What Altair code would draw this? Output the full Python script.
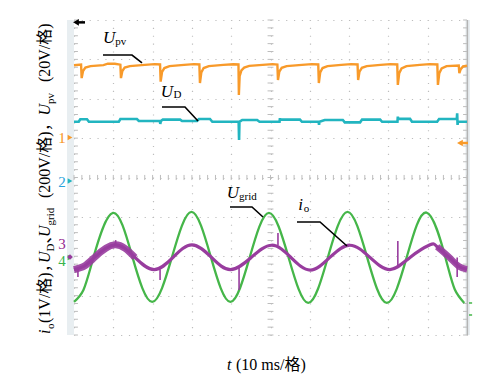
import altair as alt
import pandas as pd

# ---------------- values read off the oscilloscope capture ----------------
# horizontal: 10 ms/div, 10 div (0..100 ms); vertical: 8 div (-4..4)

# channel 1: U_pv, 20 V/div, ground marker at +1.0 div
upv_offset, upv_scale = 1.0, 20.0
upv_t = [0.0, 1.8, 1.95, 2.3, 2.9, 4.2, 7.5, 8.6, 10.4, 11.8, 11.95, 12.3, 12.9, 14.2,
         18.0, 20.5, 21.9, 22.05, 22.4, 23.0, 24.3, 28.0, 30.5, 31.9, 32.05, 32.4, 33.0, 34.3,
         38.0, 40.5, 41.85, 41.95, 42.15, 42.6, 43.3, 44.6, 48.0, 50.5, 51.75, 51.9, 52.25, 52.85,
         54.1, 58.0, 60.5, 62.15, 62.3, 62.65, 63.25, 64.5, 68.0, 70.5, 72.15, 72.3, 72.65, 73.25,
         74.5, 78.0, 80.5, 82.25, 82.4, 82.75, 83.35, 84.6, 88.0, 90.5, 92.45, 92.6, 92.95, 93.55,
         94.8, 97.9, 98.05, 98.4, 99.0, 100.0]
upv_v = [37.0, 37.4, 30.5, 34.1, 35.8, 36.6, 37.1, 37.8, 37.8, 37.3, 30.5, 34.1, 35.8, 36.6,
         37.2, 37.6, 37.4, 28.7, 33.6, 35.6, 36.6, 37.2, 37.6, 37.4, 28.0, 33.4, 35.6, 36.6,
         37.2, 37.5, 37.4, 21.9, 31.5, 34.4, 35.8, 36.7, 37.2, 37.6, 37.4, 29.5, 33.8, 35.7,
         36.6, 37.2, 37.6, 37.4, 28.0, 33.4, 35.6, 36.6, 37.2, 37.6, 37.4, 29.5, 33.8, 35.7,
         36.6, 37.2, 37.6, 37.4, 27.0, 33.0, 35.4, 36.6, 37.2, 37.6, 37.4, 27.0, 33.0, 35.4,
         36.6, 36.9, 33.0, 35.0, 36.4, 36.8]

# channel 2: U_D, 200 V/div
ud_offset, ud_scale = -0.06, 200.0
ud_t = [0.0, 1.2, 1.6, 3.3, 3.8, 9.2, 11.4, 11.8, 16.0, 16.5, 21.1, 21.85, 21.95, 22.1, 22.6,
        27.0, 27.5, 31.3, 31.8, 34.6, 35.2, 41.9, 42.0, 42.1, 42.8, 46.6, 47.2, 52.3, 52.4,
        52.5, 57.5, 58.0, 62.25, 62.35, 62.45, 63.8, 68.4, 68.9, 72.8, 73.3, 77.9, 78.4, 82.3,
        82.4, 82.5, 85.5, 86.0, 92.4, 92.9, 97.4, 97.5, 97.6, 97.7, 100.0]
ud_v = [295, 295, 308, 308, 295, 295, 295, 309, 309, 299, 299, 299, 284, 299, 306,
        306, 299, 299, 309, 309, 295, 295, 202, 295, 304, 304, 295, 295, 313,
        306, 306, 295, 295, 279, 295, 304, 304, 292, 292, 306, 306, 295, 295,
        321, 310, 310, 295, 295, 309, 309, 338, 279, 295, 295]

# channel 4: U_grid, 200 V/div
ug_offset, ug_scale = -2.03, 200.0
ug_t = [0.0, 2.4, 4.95, 9.9, 14.9, 19.9, 24.9, 29.9, 34.85, 39.8, 44.7, 49.6, 54.6, 59.6,
        64.6, 69.6, 74.6, 79.6, 84.65, 89.7, 94.5, 96.9, 99.3]
ug_v = [-226, -165, 0, 226, 0, -226, 0, 231, 0, -226, 0, 226, 0, -231,
        0, 231, 0, -231, 0, 228, 0, -163, -231]

# channel 3: i_o, 1 V/div
io_offset, io_scale = -2.03, 1.0
io_t = [0.0, 2.6, 5.2, 10.4, 15.5, 20.4, 25.2, 30.0, 35.0, 39.8, 45.1, 50.3, 55.2, 60.1,
        65.1, 70.2, 75.3, 80.4, 85.5, 90.6, 92.4, 95.5, 98.0, 100.0]
io_v = [-0.31, -0.22, 0.0, 0.32, 0.0, -0.31, 0.0, 0.32, 0.0, -0.31, 0.0, 0.31, 0.0, -0.32,
        0.0, 0.31, 0.0, -0.31, 0.0, 0.32, 0.27, 0.0, -0.23, -0.30]
io_spike_t = [1.0, 10.6, 21.9, 42.0, 51.9, 82.4, 97.5]
io_spike_from = [-0.30, 0.30, -0.30, -0.24, 0.30, -0.24, 0.0]
io_spike_to = [-0.50, 0.44, -0.57, -0.83, 0.62, 0.42, -0.50]

# ---------------- colours / fonts ----------------
C_ORANGE = "#F89A2A"
C_CYAN = "#22B5C0"
C_GREEN = "#45B649"
C_PURPLE = "#983C9E"
C_GRID = "#bdbdbd"
SERIF = "Liberation Serif, Noto Sans CJK SC"


def to_div(vals, off, scale):
    return [off + v / scale for v in vals]


upv = pd.DataFrame({"t": upv_t, "y": to_div(upv_v, upv_offset, upv_scale)})
ud = pd.DataFrame({"t": ud_t, "y": to_div(ud_v, ud_offset, ud_scale)})
ug = pd.DataFrame({"t": ug_t, "y": to_div(ug_v, ug_offset, ug_scale)})
io = pd.DataFrame({"t": io_t, "y": to_div(io_v, io_offset, io_scale)})
io_sp = pd.DataFrame({"t": io_spike_t,
                      "y": to_div(io_spike_from, io_offset, io_scale),
                      "y2": to_div(io_spike_to, io_offset, io_scale)})

xs = alt.Scale(domain=[0, 100], nice=False, zero=False)
ys = alt.Scale(domain=[-4, 4], nice=False, zero=False)
xaxis = alt.Axis(values=list(range(0, 101, 10)), grid=True, gridColor=C_GRID,
                 gridDash=[1.2, 6.675], gridDashOffset=0.6, gridWidth=1.2,
                 labels=False, ticks=False, domain=False, title=None)
yaxis = alt.Axis(values=list(range(-4, 5)), grid=True, gridColor=C_GRID,
                 gridDash=[1.2, 6.66], gridDashOffset=0.6, gridWidth=1.2,
                 labels=False, ticks=False, domain=False, title=None)
X = alt.X("t:Q", scale=xs, axis=xaxis)
Y = alt.Y("y:Q", scale=ys, axis=yaxis)


def line(df, color, width, interp="linear", opacity=1.0):
    return alt.Chart(df).mark_line(color=color, strokeWidth=width, opacity=opacity,
                                   interpolate=interp).encode(x=X, y=Y)


# ---- oscilloscope graticule decorations ----
minor_t = [i * 2 for i in range(51)]
minor_y = [-4 + i * 0.2 for i in range(41)]
hticks = pd.DataFrame({"t": minor_t, "y": [-0.065] * 51, "y2": [0.065] * 51})
vticks = pd.DataFrame({"t": [49.25] * 41, "t2": [50.75] * 41, "y": minor_y})
lticks = pd.DataFrame({"t": [0.0] * 41, "t2": [1.0] * 41, "y": minor_y})
rticks = pd.DataFrame({"t": [99.0] * 41, "t2": [100.0] * 41, "y": minor_y})

grat = [
    alt.Chart(hticks).mark_rule(color=C_GRID, strokeWidth=1).encode(x=X, y=Y, y2="y2:Q"),
    alt.Chart(vticks).mark_rule(color=C_GRID, strokeWidth=1).encode(x=X, x2="t2:Q", y=Y),
    alt.Chart(lticks).mark_rule(color=C_GRID, strokeWidth=1).encode(x=X, x2="t2:Q", y=Y),
    alt.Chart(rticks).mark_rule(color=C_GRID, strokeWidth=1).encode(x=X, x2="t2:Q", y=Y),
]

bars = pd.DataFrame({"t": [-1.78, 99.6], "t2": [0.0, 100.75], "y": [-4, -4], "y2": [4, 4]})
bar_layer = alt.Chart(bars).mark_rect(color="#e8eef1").encode(x=X, x2="t2:Q", y=Y, y2="y2:Q")
edge = pd.DataFrame({"t": [100.1], "y": [-4], "y2": [4]})
edge_layer = alt.Chart(edge).mark_rule(color="#b4b4b4", strokeWidth=1.5).encode(x=X, y=Y, y2="y2:Q")

# ---- traces ----
traces = [
    line(upv, C_ORANGE, 2.4),
    line(ud, C_CYAN, 2.6),
    line(ug, C_GREEN, 2.3, "natural"),
    line(io, C_PURPLE, 3.2, "natural"),
    line(io[io.t <= 15.5], C_PURPLE, 7, "natural", 0.9),
    line(io[io.t >= 92.4], C_PURPLE, 6.5, "natural", 0.9),
    alt.Chart(io_sp).mark_rule(color=C_PURPLE, strokeWidth=1.6).encode(x=X, y=Y, y2="y2:Q"),
]

# ---- channel markers ----
num = pd.DataFrame({"t": [-3.05] * 4, "y": [0.876, -0.241, -1.815, -2.245],
                    "text": ["1", "2", "3", "4"],
                    "c": ["#F7941D", "#29A3DC", "#93278F", "#39B54A"]})
num_layer = alt.Chart(num).mark_text(font=SERIF, fontSize=15, align="center",
                                     baseline="alphabetic").encode(
    x=X, y=Y, text="text:N", color=alt.Color("c:N", scale=None))
tri = pd.DataFrame({"t": [-1.02, -1.02, -1.02], "y": [1.016, -0.089, -2.03],
                    "c": [C_ORANGE, C_CYAN, C_GREEN]})
tri_layer = alt.Chart(tri).mark_point(shape="triangle-right", filled=True, size=30,
                                      opacity=1).encode(x=X, y=Y, color=alt.Color("c:N", scale=None))
dia = pd.DataFrame({"t": [-1.02], "y": [-2.02]})
dia_layer = alt.Chart(dia).mark_point(shape="diamond", filled=True, size=32, opacity=1,
                                      color=C_PURPLE).encode(x=X, y=Y)
trig = pd.DataFrame({"t": [0.5, 98.2], "y": [3.94, 0.876], "c": ["black", C_ORANGE]})
trig_layer = alt.Chart(trig).mark_point(shape="triangle-left", filled=True, size=45,
                                        opacity=1).encode(x=X, y=Y, color=alt.Color("c:N", scale=None))
trig_tail = pd.DataFrame({"t": [0.5, 98.2], "t2": [2.8, 100.25], "y": [3.94, 0.876],
                          "c": ["black", C_ORANGE]})
tail_layer = alt.Chart(trig_tail).mark_rule(strokeWidth=2.5).encode(
    x=X, x2="t2:Q", y=Y, color=alt.Color("c:N", scale=None))
gdash = pd.DataFrame({"t": [100.5, 100.5], "t2": [101.3, 101.3], "y": [-3.187, -3.492]})
gdash_layer = alt.Chart(gdash).mark_rule(color=C_GREEN, strokeWidth=1.5).encode(x=X, x2="t2:Q", y=Y)

# ---- trace labels with leader lines ----
lab_main = pd.DataFrame({"t": [7.38, 22.06, 38.85, 57.07], "y": [3.408, 2.052, -0.529, -0.825],
                         "text": ["U", "U", "U", "i"]})
lab_sub = pd.DataFrame({"t": [10.5, 25.3, 42.0, 58.45], "y": [3.365, 2.011, -0.559, -0.868],
                        "text": ["pv", "D", "grid", "o"]})
lab_layers = [
    alt.Chart(lab_main).mark_text(font=SERIF, fontSize=17, fontStyle="italic", align="left",
                                  baseline="alphabetic", color="black").encode(x=X, y=Y, text="text:N"),
    alt.Chart(lab_sub).mark_text(font=SERIF, fontSize=11, align="left",
                                 baseline="alphabetic", color="black").encode(x=X, y=Y, text="text:N"),
]
lead = pd.DataFrame({
    "name": ["pv"] * 3 + ["D"] * 3 + ["grid"] * 3 + ["o"] * 3,
    "t": [7.38, 14.76, 17.30, 22.39, 28.24, 31.55, 39.69, 45.29, 48.09, 56.74, 62.60, 69.47],
    "y": [3.111, 3.111, 2.908, 1.790, 1.790, 1.435, -0.749, -0.749, -1.003, -1.130, -1.130, -1.740],
})
lead_layer = alt.Chart(lead).mark_line(color="black", strokeWidth=1.6).encode(x=X, y=Y, detail="name:N")

# ---- axis titles (as text so that subscripts are possible) ----
yt_main_it = pd.DataFrame({"t": [-6.107] * 4, "y": [-3.975, -2.171, -1.511, 1.575],
                           "text": ["i", "U", "U", "U"]})
yt_main_rm = pd.DataFrame({"t": [-6.107] * 4, "y": [-3.695, -1.676, -0.521, 2.425],
                           "text": ["(1V/格)，", "、", "(200V/格)，", "(20V/格)"]})
yt_sub = pd.DataFrame({"t": [-5.216] * 4, "y": [-3.848, -1.879, -1.219, 1.867],
                       "text": ["o", "D", "grid", "pv"]})
yt_layers = [
    alt.Chart(yt_main_it).mark_text(font=SERIF, fontSize=16, fontStyle="italic", angle=270,
                                    align="left", baseline="alphabetic", color="black").encode(x=X, y=Y, text="text:N"),
    alt.Chart(yt_main_rm).mark_text(font=SERIF, fontSize=16, angle=270,
                                    align="left", baseline="alphabetic", color="black").encode(x=X, y=Y, text="text:N"),
    alt.Chart(yt_sub).mark_text(font=SERIF, fontSize=11, angle=270,
                                align="left", baseline="alphabetic", color="black").encode(x=X, y=Y, text="text:N"),
]
xt_it = pd.DataFrame({"t": [38.93], "y": [-4.889], "text": ["t"]})
xt_rm = pd.DataFrame({"t": [41.22], "y": [-4.889], "text": ["(10 ms/格)"]})
xt_layers = [
    alt.Chart(xt_it).mark_text(font=SERIF, fontSize=16, fontStyle="italic", align="left",
                               baseline="alphabetic", color="black").encode(x=X, y=Y, text="text:N"),
    alt.Chart(xt_rm).mark_text(font=SERIF, fontSize=16, align="left",
                               baseline="alphabetic", color="black").encode(x=X, y=Y, text="text:N"),
]

chart = alt.layer(
    bar_layer, edge_layer, *grat, *traces, tri_layer, dia_layer, num_layer,
    trig_layer, tail_layer, gdash_layer, lead_layer, *lab_layers, *yt_layers, *xt_layers,
).properties(
    width=393, height=315,
    autosize=alt.AutoSizeParams(type="none"),
    padding={"left": 66, "top": 12, "right": 19, "bottom": 43},
    background="white",
).configure_view(strokeWidth=0)

chart.save("out.html", embed_options={"renderer": "svg", "actions": False})
